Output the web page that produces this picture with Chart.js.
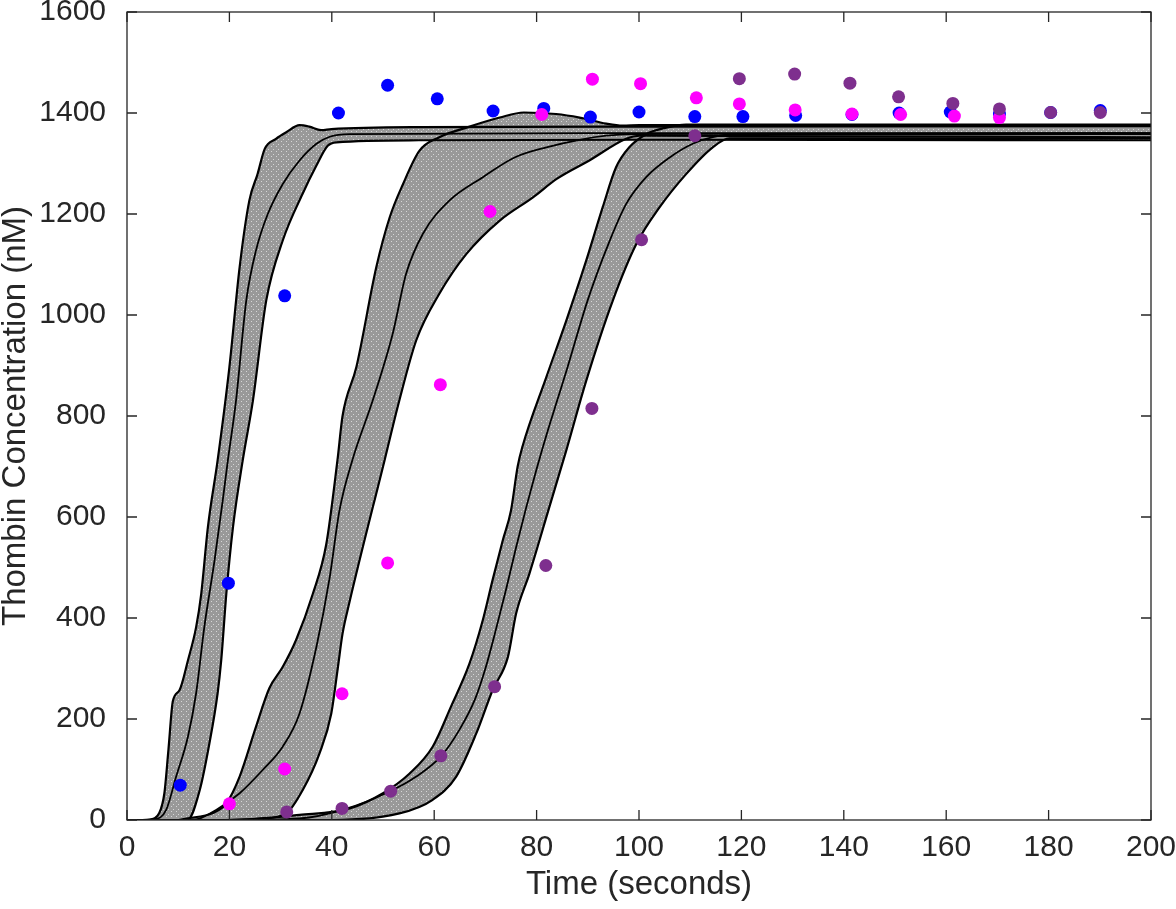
<!DOCTYPE html>
<html>
<head>
<meta charset="utf-8">
<script src="https://cdn.jsdelivr.net/npm/chart.js@4/dist/chart.umd.min.js"></script>
<style>
  html, body { margin: 0; padding: 0; background: #fff; }
  canvas { display: block; }
</style>
</head>
<body>
<canvas id="thrombin" width="1176" height="909"></canvas>
<script>
// measured thrombin (nM) vs time (s)
const blueTime = [10.4, 19.8, 30.8, 41.3, 50.9, 60.6, 71.5, 81.4, 90.5, 100, 110.9, 120.3, 130.6, 141.6, 150.8, 160.8, 170.4, 180.4, 190.1];
const blueConc = [69, 469, 1038, 1400, 1455, 1428, 1404, 1409, 1392, 1402, 1393, 1393, 1395, 1397, 1400, 1402, 1398, 1401, 1405];
const magentaTime = [20, 30.8, 42, 50.9, 61.2, 70.9, 81, 90.9, 100.3, 111.2, 119.6, 130.5, 141.6, 151.1, 161.6, 170.4];
const magentaConc = [32, 101, 250, 509, 862, 1205, 1397, 1467, 1458, 1430, 1418, 1406, 1398, 1397, 1394, 1391];
const purpleTime = [31.2, 42, 51.5, 61.3, 71.8, 81.8, 90.8, 100.5, 110.9, 119.6, 130.4, 141.2, 150.7, 161.3, 170.4, 180.4, 190.1];
const purpleConc = [16, 23, 57, 127, 264, 504, 815, 1149, 1355, 1468, 1477, 1459, 1432, 1419, 1408, 1401, 1401];

// simulated envelopes [time, conc]: upper bound, lower bound, median
const blueHi = [[0,0],[3,0],[4.4,1],[6.3,14],[7.3,53],[8.1,140],[8.95,235],[10.25,257],[11.9,316],[13.5,382],[14.5,448],[15.8,580],[17.7,712],[20.0,897],[22.0,1095],[23.9,1227],[25.5,1279],[26.9,1329],[29.1,1349],[31.1,1362],[33.7,1376],[35.6,1373],[37.9,1366],[39.9,1368],[57,1372],[100,1373],[200,1374]];
const blueLo = [[0,0],[10,0],[11.9,1],[14.2,59],[16.1,152],[17.7,251],[18.4,316],[19.4,448],[20.7,580],[22.6,712],[24.6,831],[27.2,1029],[30.4,1147],[34.3,1240],[37.0,1296],[39.2,1335],[40.9,1342],[57,1346],[100,1347],[200,1346]];
const blueMid = [[0,0],[4,0],[5.4,1],[7.65,20],[9.6,86],[11.9,165],[13.5,251],[15.1,382],[17.1,514],[18.7,633],[19.7,712],[21.3,831],[23.3,1029],[25.2,1128],[27.5,1200],[30.4,1259],[33.7,1306],[37.0,1339],[39.6,1353],[43.5,1358],[100,1360],[200,1360]];

const magHi = [[0,0],[10,0],[11.6,3],[16.8,14],[19.4,33],[22.0,86],[25.2,185],[27.8,261],[30.4,303],[33.0,356],[36.3,448],[38.9,545],[41.1,712],[42.1,800],[44.8,897],[48.7,1095],[51.3,1193],[53.9,1259],[57.1,1325],[61.0,1352],[66.3,1371],[72.8,1391],[77.5,1401],[83.8,1398],[88.4,1391],[93.6,1379],[96.8,1375],[100.1,1376],[200,1376]];
const magLo = [[0,0],[16.1,0],[26.5,3],[31.1,13],[34.3,59],[37.6,132],[39.9,211],[41.2,303],[42.1,369],[43.4,429],[50.3,712],[53.2,831],[56.5,950],[61.0,1042],[66.3,1121],[72.8,1187],[79.3,1233],[84.0,1270],[90.3,1306],[97.5,1349],[100.1,1355],[200,1352]];
const magMid = [[0,0],[12,0],[13.5,1],[17.4,20],[22.0,53],[26.5,99],[30.4,145],[33.7,211],[37.0,343],[39.6,481],[41.5,613],[44.0,712],[48.0,831],[51.9,963],[54.5,1081],[57.8,1161],[63.0,1227],[69.5,1273],[75.7,1312],[81.9,1332],[88.4,1347],[93.6,1355],[98.8,1358],[200,1360]];

const purHi = [[0,0],[20,0],[33.7,10],[43.5,23],[50.0,53],[55.2,92],[59.7,145],[63.3,225],[66.9,310],[69.5,396],[71.4,475],[73.4,554],[75.0,613],[76.3,700],[77.2,738],[81.9,877],[85.8,989],[89.7,1108],[92.9,1213],[95.5,1292],[98.1,1332],[101.4,1358],[105.3,1371],[109.2,1377],[200,1377]];
const purLo = [[0,0],[30,0],[40.2,0],[53.2,13],[59.7,40],[64.3,86],[68.2,171],[71.4,257],[74.4,323],[76.0,409],[78.6,488],[82.5,620],[85.8,732],[89.7,870],[94.9,1029],[99.5,1141],[104.0,1213],[109.2,1279],[114.4,1332],[117.7,1350],[200,1350]];
const purMid = [[0,0],[20,0],[33.7,3],[42.1,20],[51.6,58],[56.5,86],[61.4,127],[65.0,180],[68.0,240],[70.0,300],[72.0,375],[74.0,455],[76.0,540],[78.0,620],[80.0,695],[82.0,765],[84.0,830],[86.0,895],[90.0,1030],[94.0,1140],[97.5,1220],[101.4,1273],[106.0,1312],[110.5,1339],[114.4,1352],[118.3,1358],[200,1358]];

const xTicks = [0, 200, 20];
const yTicks = [0, 1600, 200];

const FONT = "'Liberation Sans', Arial, Helvetica, sans-serif";
const INK = '#262626';

function pts(pairs) { return pairs.map(([x, y]) => ({x, y})); }
function zipPts(xs, ys) { return xs.map((x, i) => ({x, y: ys[i]})); }

// grey fill with light speckles
function speckle() {
  const c = document.createElement('canvas');
  c.width = 5; c.height = 5;
  const g = c.getContext('2d');
  g.fillStyle = '#999999';
  g.fillRect(0, 0, 5, 5);
  g.fillStyle = '#d6d6d6';
  g.fillRect(1, 1, 1, 1);
  g.fillRect(3, 4, 1, 1);
  return g.createPattern(c, 'repeat');
}
const bandFill = speckle();

function dots(data, color) {
  return { data, showLine: false, pointRadius: 6.5, pointHoverRadius: 6.5,
    pointBackgroundColor: color, pointBorderWidth: 0, borderColor: color, backgroundColor: color };
}
function curve(pairs, width, fill) {
  return { data: pts(pairs), borderColor: '#000', borderWidth: width, pointRadius: 0,
    cubicInterpolationMode: 'monotone', fill: fill || false, backgroundColor: bandFill };
}

// MATLAB style box with inward ticks
const boxTicks = {
  id: 'boxTicks',
  afterDraw(chart) {
    const {ctx, chartArea: a, scales: {x, y}} = chart;
    ctx.save();
    ctx.strokeStyle = INK;
    ctx.lineWidth = 1.3;
    ctx.strokeRect(a.left, a.top, a.right - a.left, a.bottom - a.top);
    ctx.beginPath();
    x.ticks.forEach((t, i) => {
      const px = x.getPixelForTick(i);
      ctx.moveTo(px, a.bottom); ctx.lineTo(px, a.bottom - 10);
      ctx.moveTo(px, a.top); ctx.lineTo(px, a.top + 10);
    });
    y.ticks.forEach((t, i) => {
      const py = y.getPixelForTick(i);
      ctx.moveTo(a.left, py); ctx.lineTo(a.left + 10, py);
      ctx.moveTo(a.right, py); ctx.lineTo(a.right - 10, py);
    });
    ctx.stroke();
    ctx.restore();
  }
};

function noPad(s) { s.paddingTop = 0; s.paddingBottom = 0; s.paddingLeft = 0; s.paddingRight = 0; }
const plain = v => String(v);

new Chart(document.getElementById('thrombin'), {
  type: 'line',
  data: {
    datasets: [
      dots(zipPts(purpleTime, purpleConc), '#7E2F8E'),
      dots(zipPts(magentaTime, magentaConc), '#FF00FF'),
      dots(zipPts(blueTime, blueConc), '#0000FF'),
      curve(blueMid, 1.8),
      curve(blueHi, 2.2, '+1'),
      curve(blueLo, 2.2),
      curve(magMid, 1.8),
      curve(magHi, 2.2, '+1'),
      curve(magLo, 2.2),
      curve(purMid, 1.8),
      curve(purHi, 2.2, '+1'),
      curve(purLo, 2.2)
    ]
  },
  options: {
    responsive: false,
    animation: false,
    devicePixelRatio: 1,
    layout: { padding: { top: 12, right: 25, left: 0, bottom: 0 } },
    plugins: {
      legend: { display: false },
      tooltip: { enabled: false },
      filler: { drawTime: 'beforeDatasetsDraw' }
    },
    scales: {
      x: {
        type: 'linear',
        min: xTicks[0], max: xTicks[1],
        grid: { display: false },
        border: { display: false },
        ticks: { stepSize: xTicks[2], autoSkip: false, maxRotation: 0, padding: 2, callback: plain,
          color: INK, font: { family: FONT, size: 30 } },
        title: { display: true, text: 'Time (seconds)', color: INK,
          font: { family: FONT, size: 33, lineHeight: 1 }, padding: { top: 0, bottom: 8 } },
        afterFit(s) { s.height = 89; noPad(s); }
      },
      y: {
        type: 'linear',
        min: yTicks[0], max: yTicks[1],
        grid: { display: false },
        border: { display: false },
        ticks: { stepSize: yTicks[2], autoSkip: false, padding: 13, callback: plain,
          color: INK, font: { family: FONT, size: 30 } },
        title: { display: true, text: 'Thombin Concentration (nM)', color: INK,
          font: { family: FONT, size: 33, lineHeight: 1 }, padding: { top: -1, bottom: 0 } },
        afterFit(s) { s.width = 127; noPad(s); }
      }
    }
  },
  plugins: [boxTicks]
});
</script>
</body>
</html>
